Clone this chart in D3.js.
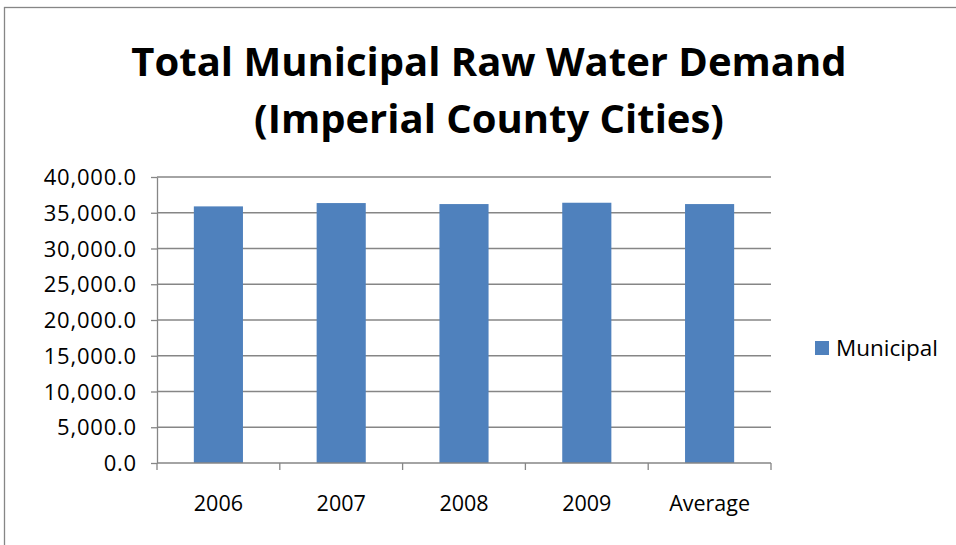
<!DOCTYPE html>
<meta charset="utf-8">
<style>
body { margin: 0; background: #fff; }
text { font-family: "Open Sans", Lato, sans-serif; fill: #000; }
.grid line { stroke: #868686; stroke-width: 1.3px; }
.axis path, .axis line { stroke: #868686; stroke-width: 1.3px; }
</style>
<svg width="956" height="545"></svg>
<script src="https://d3js.org/d3.v7.min.js"></script>
<script>
var categories = ["2006", "2007", "2008", "2009", "Average"];
var municipal = [35890, 36355, 36215, 36400, 36215];
var yTicks = [0, 5000, 10000, 15000, 20000, 25000, 30000, 35000, 40000];
var seriesName = "Municipal";
var titleLines = ["Total Municipal Raw Water Demand", "(Imperial County Cities)"];

var svg = d3.select("svg");
var margin = {left: 157, right: 771, top: 177, bottom: 463};

// outer chart frame
svg.append("rect")
    .attr("x", 4.5).attr("y", 7.5)
    .attr("width", 1000).attr("height", 600)
    .attr("fill", "none").attr("stroke", "#868686").attr("stroke-width", 1.3);

var x = d3.scaleBand()
    .domain(categories)
    .range([margin.left, margin.right])
    .paddingInner(0.6)
    .paddingOuter(0.3);

var y = d3.scaleLinear()
    .domain([0, 40000])
    .range([margin.bottom, margin.top]);

// gridlines
svg.append("g")
    .attr("class", "grid")
  .selectAll("line")
  .data(yTicks.slice(1))
  .enter().append("line")
    .attr("x1", margin.left).attr("x2", margin.right)
    .attr("y1", function(d) { return y(d); })
    .attr("y2", function(d) { return y(d); });

// bars
svg.append("g")
  .selectAll("rect")
  .data(municipal)
  .enter().append("rect")
    .attr("x", function(d, i) { return x(categories[i]); })
    .attr("y", function(d) { return y(d); })
    .attr("width", x.bandwidth())
    .attr("height", function(d) { return y(0) - y(d); })
    .attr("fill", "#4f81bd");

// y axis
var yAxis = svg.append("g")
    .attr("class", "axis")
    .attr("transform", "translate(" + margin.left + ",0)")
    .call(d3.axisLeft(y).tickValues(yTicks).tickSize(6).tickSizeOuter(0)
      .tickFormat(d3.format(",.1f")));
yAxis.selectAll("text")
    .attr("x", -20)
    .attr("dy", "0.35em")
    .style("font-family", "'Open Sans', sans-serif")
    .style("font-size", "22px")
    .style("letter-spacing", "0.8px");

// x axis: ticks on band boundaries
var xAxis = svg.append("g")
    .attr("class", "axis")
    .attr("transform", "translate(0," + margin.bottom + ")");
xAxis.append("line")
    .attr("x1", margin.left).attr("x2", margin.right);
var step = (margin.right - margin.left) / categories.length;
xAxis.selectAll(".tk")
  .data(d3.range(categories.length + 1))
  .enter().append("line")
    .attr("x1", function(i) { return margin.left + i * step; })
    .attr("x2", function(i) { return margin.left + i * step; })
    .attr("y1", 0).attr("y2", 7);
xAxis.selectAll(".lbl")
  .data(categories)
  .enter().append("text")
    .attr("x", function(d) { return x(d) + x.bandwidth() / 2; })
    .attr("y", 48)
    .attr("text-anchor", "middle")
    .style("font-size", "21.5px")
    .text(function(d) { return d; });

// title
svg.selectAll(".title")
  .data(titleLines)
  .enter().append("text")
    .attr("x", 489)
    .attr("y", function(d, i) { return 76 + i * 57; })
    .attr("text-anchor", "middle")
    .style("font-size", "40px")
    .style("font-weight", "bold")
    .text(function(d) { return d; });

// legend
svg.append("rect")
    .attr("x", 815).attr("y", 341)
    .attr("width", 14).attr("height", 14)
    .attr("fill", "#4f81bd");
svg.append("text")
    .attr("x", 836).attr("y", 356)
    .style("font-size", "22.5px")
    .text(seriesName);
</script>
